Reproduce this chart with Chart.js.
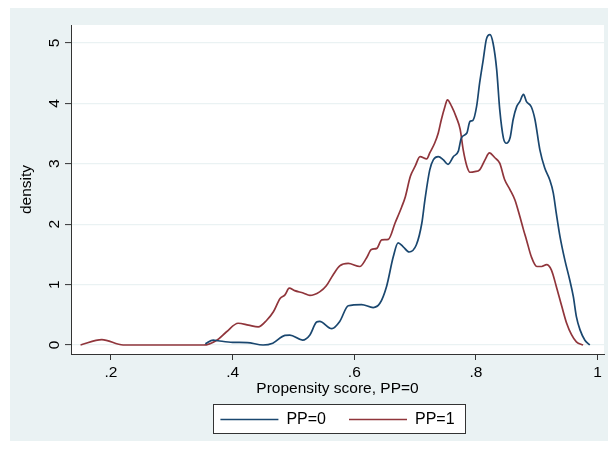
<!DOCTYPE html>
<html><head><meta charset="utf-8">
<script src="https://cdn.jsdelivr.net/npm/chart.js@4"></script>
<style>html,body{margin:0;padding:0;background:#fff}</style>
</head><body><canvas id="c" width="608" height="450"></canvas>
<script>
const seriesNames = ['PP=0', 'PP=1'];
const pp0X = [0.355,0.368,0.376,0.400,0.424,0.450,0.466,0.486,0.494,0.515,0.527,0.538,0.543,0.563,0.576,0.590,0.612,0.631,0.642,0.653,0.664,0.672,0.680,0.690,0.702,0.711,0.716,0.724,0.730,0.738,0.746,0.754,0.763,0.771,0.776,0.785,0.790,0.795,0.801,0.806,0.812,0.817,0.823,0.828,0.834,0.839,0.845,0.850,0.856,0.861,0.867,0.872,0.878,0.883,0.891,0.897,0.905,0.913,0.921,0.927,0.932,0.938,0.946,0.954,0.960,0.965,0.971,0.979,0.987];
const pp0Y = [0.02,0.08,0.07,0.045,0.04,0.0,0.03,0.16,0.165,0.08,0.165,0.38,0.39,0.27,0.39,0.65,0.67,0.62,0.69,0.97,1.46,1.69,1.63,1.54,1.66,2.02,2.40,2.90,3.07,3.12,3.07,2.99,3.12,3.21,3.43,3.51,3.70,3.72,3.95,4.34,4.73,5.06,5.14,5.0,4.56,3.90,3.43,3.34,3.43,3.73,3.95,4.03,4.15,4.03,3.94,3.73,3.23,2.93,2.74,2.52,2.18,1.80,1.41,1.08,0.80,0.47,0.25,0.08,0.0];
const pp1X = [0.150,0.185,0.220,0.352,0.374,0.390,0.409,0.426,0.442,0.456,0.467,0.478,0.486,0.493,0.502,0.516,0.527,0.543,0.554,0.565,0.576,0.590,0.609,0.620,0.628,0.637,0.645,0.656,0.667,0.678,0.684,0.692,0.700,0.708,0.719,0.724,0.732,0.738,0.743,0.749,0.753,0.760,0.768,0.774,0.779,0.785,0.790,0.798,0.806,0.815,0.822,0.831,0.839,0.847,0.856,0.864,0.872,0.878,0.883,0.891,0.900,0.908,0.916,0.924,0.932,0.941,0.949,0.957,0.965,0.976];
const pp1Y = [0,0.09,0,0,0.08,0.22,0.36,0.33,0.30,0.41,0.55,0.77,0.83,0.94,0.90,0.86,0.82,0.88,0.98,1.16,1.31,1.35,1.30,1.44,1.58,1.60,1.74,1.75,2.02,2.29,2.46,2.79,2.96,3.12,3.08,3.18,3.34,3.51,3.73,3.95,4.06,3.95,3.76,3.57,3.23,2.96,2.86,2.87,2.90,3.07,3.18,3.10,3.01,2.74,2.57,2.40,2.13,1.91,1.74,1.46,1.30,1.30,1.33,1.24,0.97,0.64,0.36,0.17,0.05,0];
const xTicks = [0.2, 0.4, 0.6, 0.8, 1];
const xTickLabels = ['.2', '.4', '.6', '.8', '1'];
const yTicks = [0, 1, 2, 3, 4, 5];
const xTitle = 'Propensity score, PP=0';
const yTitle = 'density';

const FAM = '"Liberation Sans", Arial, Helvetica, sans-serif';
const tickFont = {family: FAM, size: 15.5};
const BG = '#EAF2F3';
const AX = '#333333';

const toPts = (xs, ys) => xs.map((x, i) => ({x: x, y: ys[i]}));

const bgPlugin = {
  id: 'bg',
  beforeDraw(chart) {
    const ctx = chart.ctx, a = chart.chartArea;
    ctx.save();
    ctx.fillStyle = '#ffffff';
    ctx.fillRect(0, 0, chart.width, chart.height);
    ctx.fillStyle = BG;
    ctx.fillRect(10, 8, chart.width - 10, 433);
    ctx.fillStyle = '#ffffff';
    ctx.fillRect(a.left, a.top, a.right - a.left, a.bottom - a.top);
    const lg = chart.legend;
    if (lg && lg.legendHitBoxes && lg.legendHitBoxes.length) {
      const hb = lg.legendHitBoxes;
      const l = hb[0].left - 7;
      const last = hb[hb.length - 1];
      const r = last.left + last.width + 10.5;
      const cy = hb[0].top + hb[0].height / 2;
      const t = Math.round(cy - 15.5) + 0.5, b = Math.round(cy + 13.8) + 0.5;
      ctx.fillStyle = '#ffffff';
      ctx.fillRect(Math.round(l) + 0.5, t, Math.round(r - l), b - t);
      ctx.strokeStyle = AX;
      ctx.lineWidth = 1;
      ctx.strokeRect(Math.round(l) + 0.5, t, Math.round(r - l), b - t);
    }
    ctx.restore();
  }
};

new Chart(document.getElementById('c'), {
  type: 'line',
  data: {
    datasets: [
      {label: seriesNames[0], data: toPts(pp0X, pp0Y), borderColor: '#1A476F', backgroundColor: '#1A476F', borderWidth: 1.7, pointRadius: 0, cubicInterpolationMode: 'monotone', fill: false},
      {label: seriesNames[1], data: toPts(pp1X, pp1Y), borderColor: '#90353B', backgroundColor: '#90353B', borderWidth: 1.7, pointRadius: 0, cubicInterpolationMode: 'monotone', fill: false}
    ]
  },
  options: {
    responsive: false,
    animation: false,
    devicePixelRatio: 1,
    layout: {padding: {left: 0, top: 25, right: 4, bottom: 12.5}},
    plugins: {
      legend: {
        position: 'bottom',
        fullSize: false,
        labels: {usePointStyle: true, pointStyle: 'line', pointStyleWidth: 58, padding: 23, color: '#000', font: {family: FAM, size: 16}}
      },
      tooltip: {enabled: false}
    },
    scales: {
      x: {
        type: 'linear',
        min: 0.1343,
        max: 1.0104,
        afterBuildTicks: s => { s.ticks = xTicks.map(v => ({value: v})); },
        afterFit: s => { s.height = 34.5; },
        ticks: {
          callback: (v) => { const i = xTicks.indexOf(v); return i >= 0 ? xTickLabels[i] : ''; },
          padding: 3, color: '#000', font: tickFont, maxRotation: 0, autoSkip: false
        },
        grid: {drawOnChartArea: false, tickLength: 6, tickColor: AX, tickWidth: 1},
        border: {color: AX, width: 1},
        title: {display: true, text: xTitle, color: '#000', font: tickFont, padding: {top: 0, bottom: -9.8}}
      },
      y: {
        type: 'linear',
        min: -0.149,
        max: 5.298,
        afterBuildTicks: s => { s.ticks = yTicks.map(v => ({value: v})); },
        afterFit: s => { s.width = 71; },
        ticks: {minRotation: 90, maxRotation: 90, crossAlign: 'center', padding: 6, color: '#000', font: tickFont, autoSkip: false},
        grid: {color: BG, lineWidth: 1.2, tickLength: 6, tickColor: AX, tickWidth: 1},
        border: {color: AX, width: 1},
        title: {display: true, text: yTitle, color: '#000', font: tickFont, padding: {top: 17.7, bottom: 0}}
      }
    }
  },
  plugins: [bgPlugin]
});
</script>
</body></html>
